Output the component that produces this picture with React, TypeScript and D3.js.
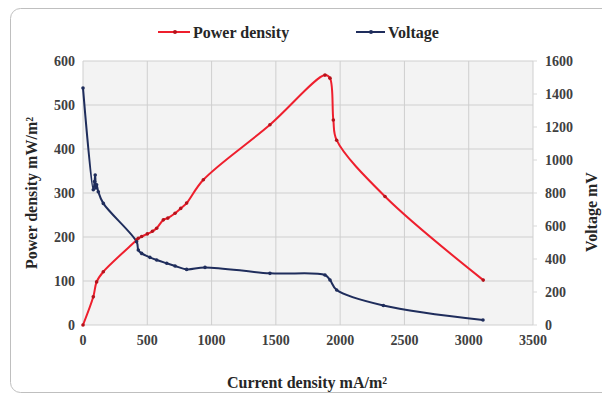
import React from 'react';
import * as d3 from 'd3';

// current density (mA/m2) and readings for each series
const powerCurrent = [0, 80, 106, 158, 417, 430, 456, 500, 540, 573, 625, 660, 716, 760, 806, 936, 1454, 1882, 1921, 1947, 1973, 2349, 3113];
const powerDensity = [0, 64, 98, 121, 193, 197, 201, 207, 213, 220, 239, 243, 254, 265, 277, 330, 455, 568, 561, 466, 420, 292, 102];

const voltageCurrent = [0, 80, 90, 95, 100, 106, 119, 158, 417, 430, 456, 520, 573, 651, 716, 806, 949, 1454, 1882, 1921, 1973, 2336, 3111];
const voltage = [1436, 820, 870, 909, 830, 850, 808, 737, 505, 455, 434, 410, 394, 374, 358, 337, 349, 313, 303, 273, 212, 118, 30];

const xTicks = [0, 500, 1000, 1500, 2000, 2500, 3000, 3500];
const leftTicks = [0, 100, 200, 300, 400, 500, 600];
const rightTicks = [0, 200, 400, 600, 800, 1000, 1200, 1400, 1600];

const W = 602;
const H = 396;
const plot = { left: 83, right: 533, top: 61, bottom: 325 };
const font = "'Liberation Serif', 'Times New Roman', serif";
const RED = '#ee1f2d';
const BLUE = '#1f2d5c';

export default function App() {
  const x = d3.scaleLinear().domain([0, 3500]).range([plot.left, plot.right]);
  const yL = d3.scaleLinear().domain([0, 600]).range([plot.bottom, plot.top]);
  const yR = d3.scaleLinear().domain([0, 1600]).range([plot.bottom, plot.top]);

  const powerPts: [number, number][] = powerCurrent.map((c, i) => [x(c), yL(powerDensity[i])]);
  const voltPts: [number, number][] = voltageCurrent.map((c, i) => [x(c), yR(voltage[i])]);

  const line = d3.line().curve(d3.curveCatmullRom.alpha(0.5));

  return (
    <div style={{ position: 'absolute', left: 0, top: 0 }}>
      <svg width={W} height={H} style={{ display: 'block', fontFamily: font, fontWeight: 'bold' }}>
        <rect x={0} y={0} width={W} height={H} fill="#fff" />
        <rect x={10.5} y={8.5} width={620} height={384} rx={10} fill="#fff" stroke="#bfbfbf" />
        <rect x={plot.left} y={plot.top} width={plot.right - plot.left} height={plot.bottom - plot.top} fill="#f3f3f3" />

        {/* grid */}
        {leftTicks.map((t) => (
          <line key={'h' + t} x1={plot.left} x2={plot.right} y1={yL(t)} y2={yL(t)} stroke="#cfcfcf" />
        ))}
        {xTicks.map((t) => (
          <line key={'v' + t} x1={x(t)} x2={x(t)} y1={plot.top} y2={plot.bottom} stroke="#cfcfcf" />
        ))}
        {rightTicks.map((t) => (
          <line key={'rt' + t} x1={plot.right} x2={plot.right + 4} y1={yR(t)} y2={yR(t)} stroke="#d9d9d9" />
        ))}

        {/* tick labels */}
        {leftTicks.map((t) => (
          <text key={'l' + t} x={plot.left - 8} y={yL(t)} dy="0.35em" textAnchor="end" fontSize={14} fill="#404040">
            {t}
          </text>
        ))}
        {rightTicks.map((t) => (
          <text key={'r' + t} x={plot.right + 12} y={yR(t)} dy="0.35em" textAnchor="start" fontSize={14} fill="#404040">
            {t}
          </text>
        ))}
        {xTicks.map((t) => (
          <text key={'x' + t} x={x(t)} y={plot.bottom + 15} dy="0.35em" textAnchor="middle" fontSize={14} fill="#404040">
            {t}
          </text>
        ))}

        {/* series */}
        <path d={line(powerPts) || ''} fill="none" stroke={RED} strokeWidth={2} />
        <path d={line(voltPts) || ''} fill="none" stroke={BLUE} strokeWidth={2} />
        {powerPts.map((p, i) => (
          <circle key={'pp' + i} cx={p[0]} cy={p[1]} r={1.8} fill="#b5121b" />
        ))}
        {voltPts.map((p, i) => (
          <circle key={'vp' + i} cx={p[0]} cy={p[1]} r={1.8} fill={BLUE} />
        ))}

        {/* axis titles */}
        <text x={307} y={382} dy="0.35em" textAnchor="middle" fontSize={16} fill="#262626">
          Current density mA/m²
        </text>
        <text transform={`translate(31,${(plot.top + plot.bottom) / 2}) rotate(-90)`} dy="0.35em" textAnchor="middle" fontSize={16} fill="#262626">
          Power density mW/m²
        </text>
        <text transform={`translate(591,212) rotate(-90)`} dy="0.35em" textAnchor="middle" fontSize={16} fill="#262626">
          Voltage mV
        </text>

        {/* legend */}
        <line x1={158} x2={190} y1={32} y2={32} stroke={RED} strokeWidth={2} />
        <circle cx={175} cy={32} r={2} fill="#b5121b" />
        <text x={193} y={32} dy="0.35em" fontSize={16} fill="#262626">Power density</text>
        <line x1={356} x2={385} y1={32} y2={32} stroke={BLUE} strokeWidth={2} />
        <circle cx={371} cy={32} r={2} fill={BLUE} />
        <text x={388} y={32} dy="0.35em" fontSize={16} fill="#262626">Voltage</text>
      </svg>
    </div>
  );
}
